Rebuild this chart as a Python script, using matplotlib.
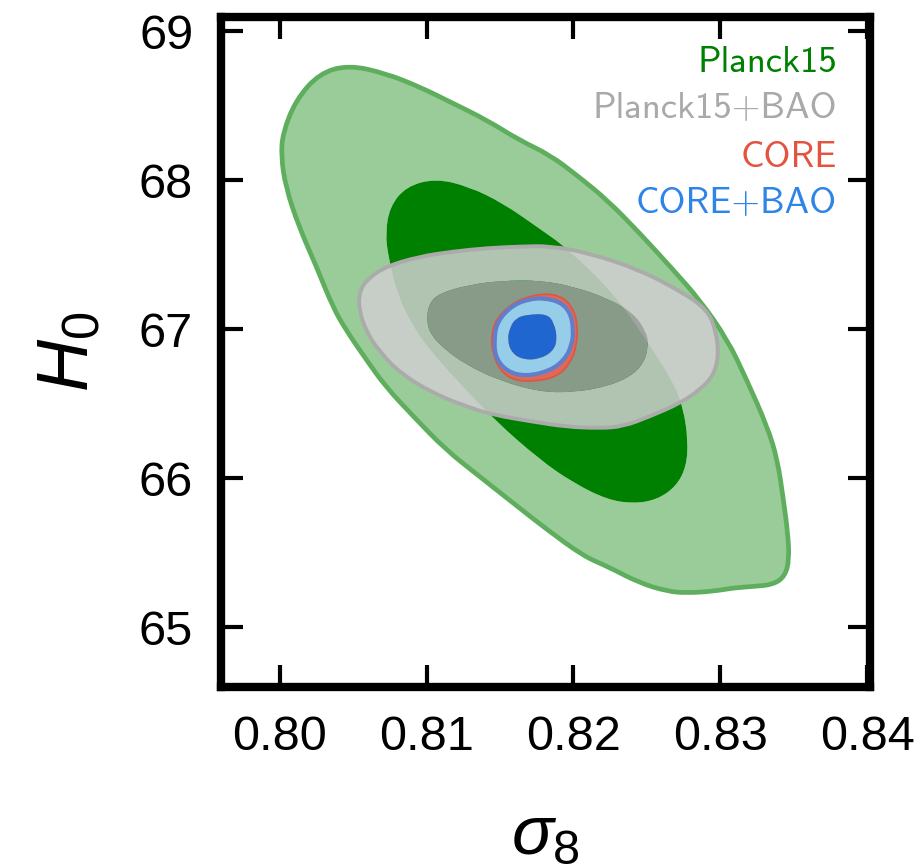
#!/usr/bin/env python3
"""Planck15 / CORE constraints in the sigma8 - H0 plane."""
import matplotlib

matplotlib.use("Agg")
import matplotlib.pyplot as plt  # noqa: E402
import numpy as np  # noqa: E402
from matplotlib.patches import PathPatch  # noqa: E402
from matplotlib.path import Path  # noqa: E402

# contour outlines, (sigma8, H0)
planck_2s_s8 = [0.8047, 0.8072, 0.8095, 0.8118, 0.8141, 0.8163, 0.8184, 0.8203, 0.8223, 0.8245,
                0.8268, 0.8286, 0.8305, 0.8318, 0.8332, 0.8339, 0.8343, 0.8346, 0.8347, 0.8344,
                0.8336, 0.8323, 0.8309, 0.8295, 0.8277, 0.8264, 0.8245, 0.8223, 0.8207, 0.8182,
                0.8159, 0.8136, 0.8113, 0.8091, 0.8072, 0.8059, 0.8045, 0.8036, 0.8025, 0.8013,
                0.8004, 0.8001, 0.8002, 0.8011, 0.8027]
planck_2s_h0 = [68.772, 68.716, 68.627, 68.515, 68.403, 68.269, 68.169, 68.028, 67.867, 67.646,
                67.398, 67.197, 66.929, 66.661, 66.348, 66.125, 65.857, 65.635, 65.454, 65.342,
                65.287, 65.275, 65.265, 65.242, 65.231, 65.242, 65.298, 65.410, 65.477, 65.656,
                65.834, 66.013, 66.192, 66.415, 66.616, 66.795, 66.996, 67.152, 67.420, 67.688,
                67.956, 68.158, 68.314, 68.538, 68.716]

planck_1s_s8 = [0.8106, 0.8129, 0.8152, 0.8175, 0.8196, 0.8228, 0.8252, 0.8269, 0.8275, 0.8278,
                0.8277, 0.8270, 0.8257, 0.8241, 0.8223, 0.8200, 0.8177, 0.8146, 0.8119, 0.8102,
                0.8090, 0.8080, 0.8074, 0.8072, 0.8075, 0.8086]
planck_1s_h0 = [68.011, 67.956, 67.845, 67.688, 67.542, 67.237, 66.895, 66.627, 66.460, 66.259,
                66.080, 65.946, 65.857, 65.830, 65.857, 65.969, 66.125, 66.393, 66.674, 66.862,
                67.030, 67.237, 67.482, 67.644, 67.822, 67.956]

pbao_2s_s8 = [0.8141, 0.8163, 0.8184, 0.8211, 0.8245, 0.8275, 0.8291, 0.8297, 0.8299, 0.8295,
              0.8286, 0.8273, 0.8252, 0.8234, 0.8218, 0.8195, 0.8173, 0.8145, 0.8127, 0.8104,
              0.8082, 0.8068, 0.8059, 0.8054, 0.8054, 0.8059, 0.8072, 0.8095, 0.8118]
pbao_2s_h0 = [67.544, 67.554, 67.559, 67.510, 67.398, 67.244, 67.130, 66.996, 66.817, 66.683,
              66.594, 66.505, 66.415, 66.348, 66.336, 66.346, 66.379, 66.426, 66.482, 66.572,
              66.706, 66.849, 66.983, 67.130, 67.242, 67.331, 67.420, 67.487, 67.521]

pbao_1s_s8 = [0.8129, 0.8152, 0.8177, 0.8200, 0.8223, 0.8241, 0.8250, 0.8251, 0.8248, 0.8239,
              0.8223, 0.8200, 0.8177, 0.8150, 0.8127, 0.8111, 0.8102, 0.8100, 0.8102, 0.8109]
pbao_1s_h0 = [67.298, 67.326, 67.328, 67.286, 67.208, 67.108, 66.974, 66.884, 66.773, 66.683,
              66.616, 66.576, 66.580, 66.654, 66.761, 66.875, 66.976, 67.076, 67.177, 67.242]

core_2s_s8 = [0.8157, 0.8168, 0.8182, 0.8193, 0.8200, 0.8203, 0.8202, 0.8198, 0.8189, 0.8173,
              0.8159, 0.8150, 0.8145, 0.8144, 0.8147]
core_2s_h0 = [67.164, 67.217, 67.241, 67.214, 67.137, 67.018, 66.884, 66.773, 66.681, 66.648,
              66.658, 66.725, 66.840, 66.951, 67.063]

cbao_2s_s8 = [0.8179, 0.8191, 0.8198, 0.8200, 0.8199, 0.8194, 0.8184, 0.8168, 0.8155, 0.8147,
              0.8146, 0.8148, 0.8158, 0.8169]
cbao_2s_h0 = [67.210, 67.184, 67.110, 66.996, 66.895, 66.795, 66.721, 66.684, 66.714, 66.808,
              66.929, 67.050, 67.157, 67.200]

cbao_1s_s8 = [0.8168, 0.8182, 0.8187, 0.8189, 0.8186, 0.8177, 0.8166, 0.8158, 0.8155, 0.8157,
              0.8161]
cbao_1s_h0 = [67.097, 67.103, 67.041, 66.929, 66.851, 66.800, 66.795, 66.840, 66.929, 67.018,
              67.074]

labels = ["Planck15", "Planck15+BAO", "CORE", "CORE+BAO"]
label_colors = ["#008000", "#a9a9a9", "#e4533f", "#2f84e8"]

x_ticks = [0.80, 0.81, 0.82, 0.83, 0.84]
y_ticks = [65, 66, 67, 68, 69]


def ring(xs, ys, ccw=True):
    pts = np.column_stack([xs, ys])
    area = np.sum(pts[:, 0] * np.roll(pts[:, 1], -1) - np.roll(pts[:, 0], -1) * pts[:, 1])
    if (area > 0) != ccw:
        pts = pts[::-1]
    return pts


def smooth_ring(pts):
    # closed quadratic bezier: vertices act as control points, midpoints lie on the curve
    mids = 0.5 * (pts + np.roll(pts, -1, axis=0))
    verts = [mids[-1]]
    codes = [Path.MOVETO]
    for p, m in zip(pts, mids):
        verts += [p, m]
        codes += [Path.CURVE3, Path.CURVE3]
    return verts, codes


def region_path(outer, inner=None):
    rings = [ring(*outer, ccw=True)]
    if inner is not None:
        rings.append(ring(*inner, ccw=False))
    verts, codes = [], []
    for r in rings:
        v, c = smooth_ring(r)
        verts += v
        codes += c
    return Path(np.array(verts), codes)


def fill_region(ax, outer, inner=None, color="k", alpha=1.0, z=1):
    patch = PathPatch(region_path(outer, inner), facecolor=color, edgecolor="none",
                      alpha=alpha, zorder=z)
    ax.add_patch(patch)


def outline(ax, xs, ys, color, lw, z):
    patch = PathPatch(region_path((xs, ys)), facecolor="none", edgecolor=color, lw=lw,
                      joinstyle="round", zorder=z)
    ax.add_patch(patch)


plt.rcParams["mathtext.fontset"] = "custom"
plt.rcParams["mathtext.it"] = "Liberation Sans:italic"
plt.rcParams["mathtext.rm"] = "Liberation Sans"

fig = plt.figure(figsize=(9.22, 8.68), dpi=100)
ax = fig.add_axes([0.2397, 0.2085, 0.7039, 0.7719])

planck2 = (planck_2s_s8, planck_2s_h0)
planck1 = (planck_1s_s8, planck_1s_h0)
fill_region(ax, planck2, planck1, color="#99cc99", z=1)
fill_region(ax, planck1, color="#008000", z=1.1)
outline(ax, planck_2s_s8, planck_2s_h0, "#5eae5e", 3.4, 1.2)

pbao2 = (pbao_2s_s8, pbao_2s_h0)
pbao1 = (pbao_1s_s8, pbao_1s_h0)
fill_region(ax, pbao2, pbao1, color="#cfcfcf", alpha=0.86, z=2)
fill_region(ax, pbao1, color="#9f9f9f", alpha=0.86, z=2.1)
outline(ax, pbao_2s_s8, pbao_2s_h0, "#ababab", 2.8, 2.2)

fill_region(ax, (core_2s_s8, core_2s_h0), color="#dd6a58", z=3)
outline(ax, core_2s_s8, core_2s_h0, "#e0553f", 1.2, 3.1)

cbao2 = (cbao_2s_s8, cbao_2s_h0)
cbao1 = (cbao_1s_s8, cbao_1s_h0)
fill_region(ax, cbao2, cbao1, color="#96cde8", z=4)
fill_region(ax, cbao1, color="#1f66d0", z=4.1)
outline(ax, cbao_2s_s8, cbao_2s_h0, "#5f7fcc", 3.0, 4.2)

ax.set_xlim(0.796, 0.8402)
ax.set_ylim(64.6, 69.094)
ax.set_xticks(x_ticks)
ax.set_yticks(y_ticks)
ax.set_xticklabels([f"{t:.2f}" for t in x_ticks])
ax.set_yticklabels([f"{t:d}" for t in y_ticks])
ax.tick_params(direction="in", length=16, width=3, top=True, right=True,
               labelsize=35, pad=20)
for lab in ax.get_xticklabels() + ax.get_yticklabels():
    lab.set_fontfamily("Liberation Sans")
for sp in ax.spines.values():
    sp.set_linewidth(6)

ax.set_xlabel(r"$\sigma_8$", fontsize=50, labelpad=30)
ax.set_ylabel(r"$H_0$", fontsize=52, labelpad=26)

y_pos = [0.918, 0.849, 0.776, 0.7075]
for text, col, yp in zip(labels, label_colors, y_pos):
    ax.text(0.949, yp, text, transform=ax.transAxes, ha="right", va="baseline",
            color=col, fontsize=26.5, family="cmss10", zorder=10)

fig.savefig("out.png", dpi=100)
